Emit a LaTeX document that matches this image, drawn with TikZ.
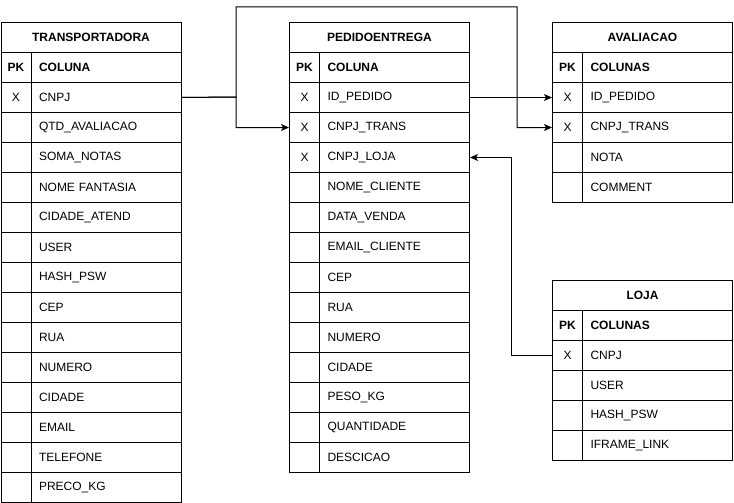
\documentclass[tikz,border=0pt]{standalone}
\usepackage{fontspec}
\setmainfont{Liberation Sans}
\usetikzlibrary{arrows.meta}
\tikzset{
  tcell/.style={draw=black, line width=1pt, anchor=north west, inner sep=0pt,
    minimum height=30pt, font=\fontsize{12}{14}\selectfont},
  titlecell/.style={tcell, minimum width=180pt, font=\fontsize{12}{14}\selectfont\bfseries},
  pkcell/.style={tcell, minimum width=30pt},
  colcell/.style={tcell, text width=134pt, inner xsep=8pt, align=left},
  fk/.style={draw=black, line width=1pt, -{Stealth[length=8pt,width=7pt,inset=2pt]}},
  link/.style={draw=black, line width=1pt}
}
\newcommand\ertable[5]{%
  \node[titlecell] (#1-t) at ({#2},{#3}) {#4};
  \foreach \pk/\col [count=\i] in {#5} {
    \node[pkcell] (#1-p\i) at ({#2},{#3+30*\i}) {\pk};
    \node[colcell] (#1-c\i) at ({#2+30},{#3+30*\i}) {\col};
  }%
}
\begin{document}
\begin{tikzpicture}[x=1pt,y=-1pt]
\useasboundingbox[fill=white] (0,0) rectangle (734,503);
\ertable{T}{0.5}{22}{TRANSPORTADORA}{\textbf{PK}/\textbf{COLUNA}, X/CNPJ, /QTD\_AVALIACAO, /SOMA\_NOTAS, /NOME FANTASIA, /CIDADE\_ATEND, /USER, /HASH\_PSW, /CEP, /RUA, /NUMERO, /CIDADE, /EMAIL, /TELEFONE, /PRECO\_KG}
\ertable{P}{289}{22}{PEDIDOENTREGA}{\textbf{PK}/\textbf{COLUNA}, X/ID\_PEDIDO, X/CNPJ\_TRANS, X/CNPJ\_LOJA, /NOME\_CLIENTE, /DATA\_VENDA, /EMAIL\_CLIENTE, /CEP, /RUA, /NUMERO, /CIDADE, /PESO\_KG, /QUANTIDADE, /DESCICAO}
\ertable{A}{552}{22}{AVALIACAO}{\textbf{PK}/\textbf{COLUNAS}, X/ID\_PEDIDO, X/CNPJ\_TRANS, /NOTA, /COMMENT}
\ertable{L}{552}{280}{LOJA}{\textbf{PK}/\textbf{COLUNAS}, X/CNPJ, /USER, /HASH\_PSW, /IFRAME\_LINK}
% connectors
\coordinate (jt) at (236,97);
\coordinate (topr) at (517,7);
\draw[fk] (T-c2.east) -- (jt) |- (P-p3.west);
\draw[fk] (T-c2.east) -- (jt) |- (topr) |- (A-p3.west);
\draw[fk] (P-c2.east) -- (A-p2.west);
\draw[fk] (L-p2.west) -- ++(-41,0) |- (P-c4.east);
\end{tikzpicture}
\end{document}
